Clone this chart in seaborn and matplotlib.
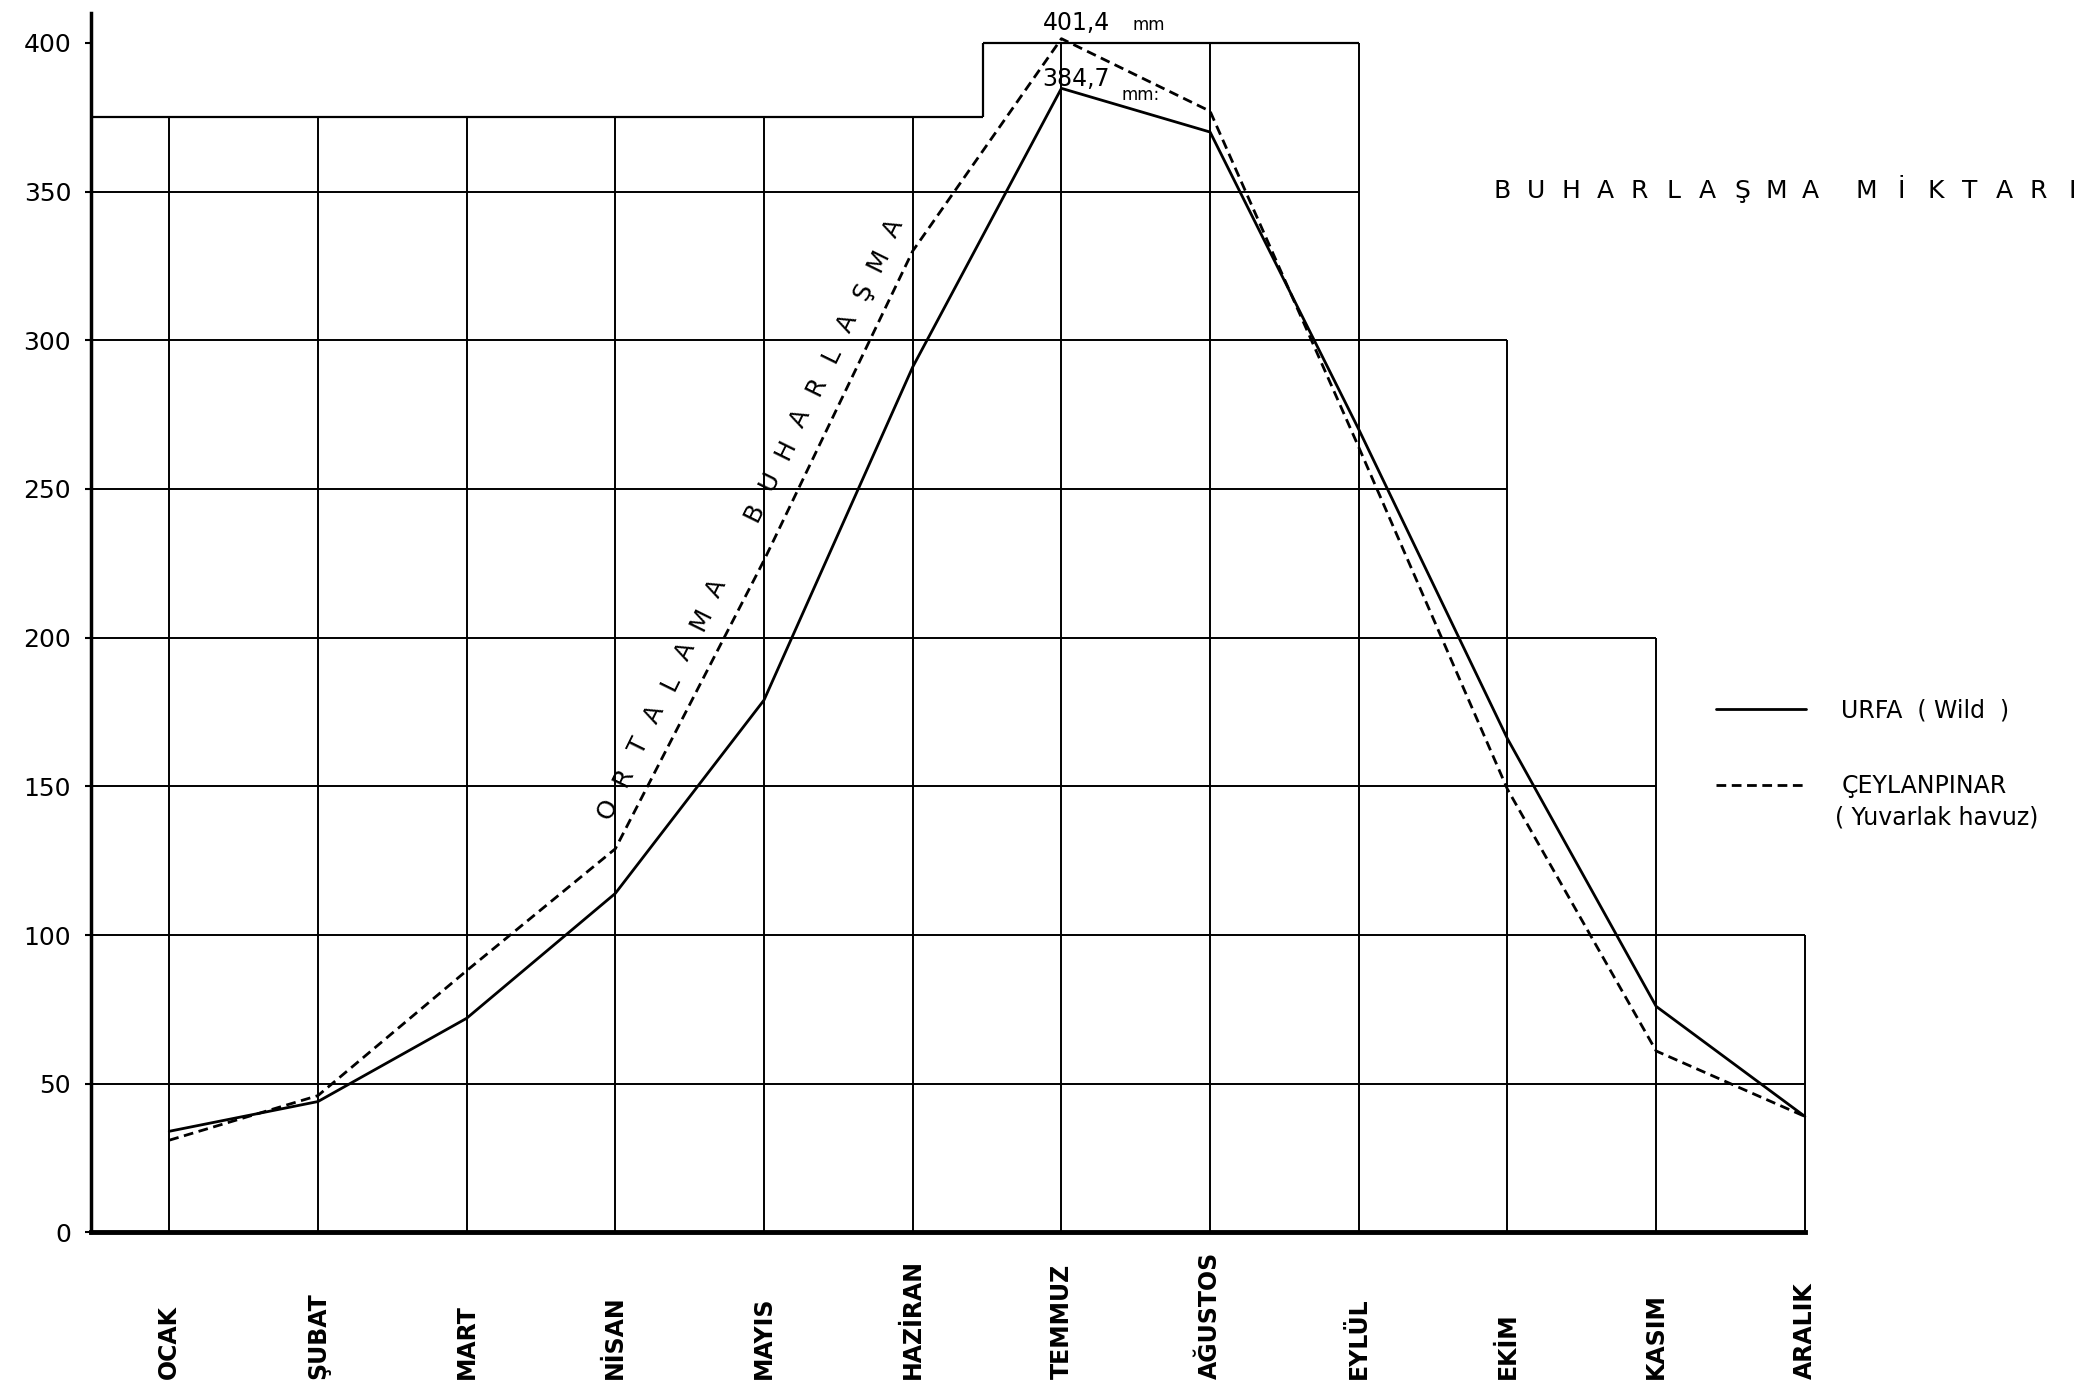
import numpy as np
import pandas as pd
import matplotlib
matplotlib.use('Agg')
import matplotlib.pyplot as plt
import seaborn as sns
from matplotlib.transforms import blended_transform_factory

# aylik buharlasma (mm)
aylar = ['OCAK', 'ŞUBAT', 'MART', 'NİSAN', 'MAYIS', 'HAZİRAN',
         'TEMMUZ', 'AĞUSTOS', 'EYLÜL', 'EKİM', 'KASIM', 'ARALIK']
urfa = [34, 44, 72, 114, 179, 291, 384.7, 370, 270, 166, 76, 39]
ceylanpinar = [31, 46, 88, 129, 226, 330, 401.4, 377, 264, 149, 61, 39]
# basamakli cercevenin her aydaki ust siniri
cerceve = [375, 375, 375, 375, 375, 375, 400, 400, 400, 300, 200, 100]
y_ticks = [0, 50, 100, 150, 200, 250, 300, 350, 400]

sns.set_style('white')
plt.rcParams['font.family'] = ['DejaVu Sans']
plt.rcParams.update({'text.color': 'black', 'axes.edgecolor': 'black',
                     'ytick.color': 'black', 'xtick.color': 'black'})

W, H = 2089, 1387
fig = plt.figure(figsize=(W / 100, H / 100), dpi=100)
ax = fig.add_axes([90.6 / W, 1 - 1232.4 / H, (1812.3 - 90.6) / W, (1232.4 - 13.1) / H])
x0, x1 = -0.529, 11.05
ax.set_xlim(x0, x1)
ax.set_ylim(0, 410)

df = pd.DataFrame({'x': np.arange(len(aylar)), 'ay': aylar,
                   'urfa': urfa, 'ceylanpinar': ceylanpinar})

# izgara (basamakli)
for h in y_ticks[1:-1]:
    son = max(i for i, t in enumerate(cerceve) if t >= h)
    ax.hlines(h, x0, son, color='black', lw=1.4, zorder=1)
ax.vlines(df['x'], 0, cerceve, color='black', lw=1.4, zorder=1)
ax.hlines(375, x0, 5.47, color='black', lw=1.6, zorder=1)
ax.vlines(5.47, 375, 400, color='black', lw=1.6, zorder=1)
ax.hlines(400, 5.47, 8, color='black', lw=1.6, zorder=1)

sns.lineplot(data=df, x='x', y='urfa', color='black', lw=2, ax=ax,
             label='URFA  ( Wild  )', legend=False, zorder=3)
sns.lineplot(data=df, x='x', y='ceylanpinar', color='black', lw=2, ax=ax,
             linestyle=(0, (3.5, 2)), label='ÇEYLANPINAR', legend=False, zorder=3)
ax.set(xlabel='', ylabel='')

ax.set_xticks([])
ax.set_yticks(y_ticks)
ax.tick_params(axis='y', length=4, width=1.5, pad=10, labelsize=18, left=True)
for s in ['top', 'right']:
    ax.spines[s].set_visible(False)
ax.spines['left'].set_linewidth(2.5)
ax.spines['bottom'].set_linewidth(3.5)
ax.spines['bottom'].set_bounds(x0, 11)

# ay adlari
tr = blended_transform_factory(ax.transData, fig.transFigure)
for i, ay in enumerate(aylar):
    ax.text(i, 0.006, ay, transform=tr, rotation=90, ha='center', va='bottom',
            fontsize=17, fontweight='bold')

# tepe degerleri
ax.text(6.10, 402.5, '401,4', ha='center', va='bottom', fontsize=17)
ax.text(6.59, 403, 'mm', ha='center', va='bottom', fontsize=12)
ax.text(6.10, 388, '384,7', ha='center', va='center', fontsize=17)
ax.text(6.53, 382.5, 'mm:', ha='center', va='center', fontsize=12)


def harf_harf(metin, px, py, adim, bosluk, aci, **kw):
    # harfleri piksel cinsinden tek tek diz
    dx, dy = np.cos(np.radians(aci)), np.sin(np.radians(aci))
    pos = 0
    for ch in metin:
        if ch == ' ':
            pos += bosluk - adim
            continue
        fig.text((px + pos * dx) / W, 1 - (py - pos * dy) / H, ch,
                 rotation=aci, ha='center', va='center', **kw)
        pos += adim


harf_harf('ORTALAMA BUHARLAŞMA', 608, 809, 35.2, 84, 63.8, fontsize=18)
harf_harf('BUHARLAŞMA MİKTARI', 1502, 191, 34.3, 56, 0, fontsize=18)

# lejant
handles, labels = ax.get_legend_handles_labels()
fig.legend(handles, labels, loc='center left', bbox_to_anchor=(1716 / W, 1 - 748 / H),
           frameon=False, fontsize=17, handlelength=3.8, handletextpad=1.5,
           labelspacing=2.2, borderpad=0, borderaxespad=0)
fig.text(1835 / W, 1 - 817 / H, '( Yuvarlak havuz)', va='center', fontsize=17)

fig.savefig('out.png', dpi=100, facecolor='white')
